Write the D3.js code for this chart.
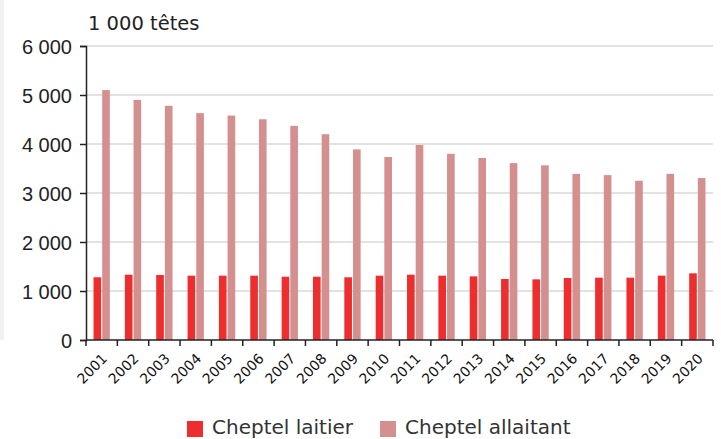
<!DOCTYPE html>
<html>
<head>
<meta charset="utf-8">
<script src="https://cdn.jsdelivr.net/npm/d3@7"></script>
<style>
	body { margin: 0; background: #fff; }
	svg { display: block; font-family: "DejaVu Sans", sans-serif; }
</style>
</head>
<body>
<svg id="chart" width="721" height="439"></svg>
<script>
var years = ["2001", "2002", "2003", "2004", "2005", "2006", "2007", "2008", "2009", "2010",
	"2011", "2012", "2013", "2014", "2015", "2016", "2017", "2018", "2019", "2020"];
var laitier = [1280, 1333, 1327, 1313, 1313, 1313, 1292, 1292, 1280, 1313,
	1333, 1313, 1299, 1245, 1238, 1265, 1272, 1272, 1313, 1361];
var allaitant = [5100, 4900, 4780, 4630, 4580, 4505, 4370, 4200, 3890, 3735,
	3980, 3800, 3715, 3610, 3565, 3390, 3365, 3250, 3390, 3305];
var seriesNames = ["Cheptel laitier", "Cheptel allaitant"];
var yTicks = [0, 1000, 2000, 3000, 4000, 5000, 6000];

var colors = ["#ee2e2e", "#d48f8f"];
var svg = d3.select("#chart");
var margin = {left: 86, right: 8, top: 46, bottom: 99};
var width = 721, height = 439;

// faint panel edge on the left
svg.append("rect").attr("x", 0).attr("y", 0).attr("width", 4).attr("height", 340).style("fill", "#f1f1f1");

var data = years.map(function (y, i) {
	return {year: y, values: [laitier[i], allaitant[i]]};
});

var x0 = d3.scaleBand()
	.domain(years)
	.range([margin.left, width - margin.right])
	.paddingInner(0.48)
	.paddingOuter(0.24);
var x1 = d3.scaleBand()
	.domain([0, 1])
	.range([0, x0.bandwidth()])
	.paddingInner(0.12);
var y = d3.scaleLinear()
	.domain([0, 6000])
	.range([height - margin.bottom, margin.top]);

var fmt = function (d) {
	return d3.format(",")(d).replace(/,/g, " ");
};

// grid
svg.append("g").selectAll("line")
	.data(yTicks.slice(1))
	.enter().append("line")
	.attr("x1", margin.left).attr("x2", width - margin.right)
	.attr("y1", function (d) { return y(d); })
	.attr("y2", function (d) { return y(d); })
	.style("stroke", "#d9d9d9").style("stroke-width", 1.5);

// bars
var groups = svg.append("g").selectAll("g")
	.data(data)
	.enter().append("g")
	.attr("transform", function (d) { return "translate(" + x0(d.year) + ",0)"; });
groups.selectAll("rect")
	.data(function (d) { return d.values; })
	.enter().append("rect")
	.attr("x", function (d, i) { return x1(i); })
	.attr("width", x1.bandwidth())
	.attr("y", function (d) { return y(d); })
	.attr("height", function (d) { return y(0) - y(d); })
	.style("fill", function (d, i) { return colors[i]; });

// y axis
var yAxis = svg.append("g")
	.attr("transform", "translate(" + margin.left + ",0)")
	.call(d3.axisLeft(y).tickValues(yTicks).tickFormat(fmt).tickSize(6).tickPadding(8));
yAxis.select(".domain").style("stroke", "#222").style("stroke-width", 1.5);
yAxis.selectAll(".tick line").style("stroke", "#222").style("stroke-width", 1.5);
yAxis.selectAll("text").style("font-size", "20px").style("fill", "#222").attr("dy", "0.36em");

// x axis with ticks on band edges
var step = x0.step();
var edges = d3.range(years.length + 1).map(function (i) { return margin.left + i * step; });
var xg = svg.append("g");
xg.append("line")
	.attr("x1", margin.left).attr("x2", width - margin.right)
	.attr("y1", y(0)).attr("y2", y(0))
	.style("stroke", "#222").style("stroke-width", 1.5);
xg.selectAll("line.tk")
	.data(edges)
	.enter().append("line").attr("class", "tk")
	.attr("x1", function (d) { return d; }).attr("x2", function (d) { return d; })
	.attr("y1", y(0)).attr("y2", y(0) + 6)
	.style("stroke", "#222").style("stroke-width", 1.5);
xg.selectAll("text")
	.data(years)
	.enter().append("text")
	.attr("transform", function (d) {
		return "translate(" + (x0(d) + x0.bandwidth() / 2 + 3) + "," + (y(0) + 16) + ") rotate(-45)";
	})
	.attr("text-anchor", "end")
	.attr("dy", "0.35em")
	.style("font-size", "14px")
	.style("fill", "#111")
	.text(function (d) { return d; });

// unit title
svg.append("text")
	.attr("x", 88).attr("y", 30)
	.style("font-size", "19.5px").style("fill", "#222")
	.text("1 000 têtes");

// legend
var legendX = [187, 380];
var legend = svg.append("g").selectAll("g")
	.data(seriesNames)
	.enter().append("g")
	.attr("transform", function (d, i) { return "translate(" + legendX[i] + ",421)"; });
legend.append("rect")
	.attr("width", 16).attr("height", 16)
	.style("fill", function (d, i) { return colors[i]; });
legend.append("text")
	.attr("x", 25).attr("y", 13)
	.style("font-size", "20px").style("fill", "#333")
	.text(function (d) { return d; });
</script>
</body>
</html>
